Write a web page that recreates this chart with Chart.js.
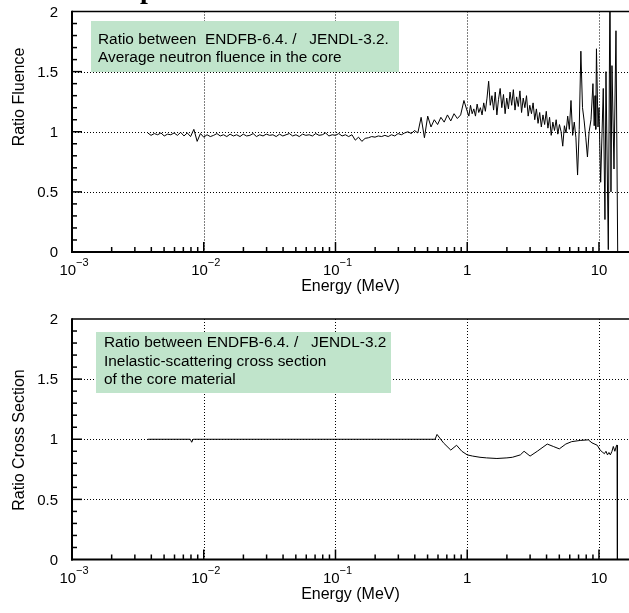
<!DOCTYPE html>
<html><head><meta charset="utf-8">
<script src="https://cdn.jsdelivr.net/npm/chart.js@4.4.1/dist/chart.umd.min.js"></script>
<style>
html,body{margin:0;padding:0;background:#fff;overflow:hidden;width:629px;height:613px}
canvas{position:absolute;left:0}
#c1{top:0}
#c2{top:306px}
</style></head><body>
<canvas id="c1" width="629" height="306"></canvas>
<canvas id="c2" width="629" height="307"></canvas>
<script>
// ---------------- DATA ----------------
const fluenceEnergy = [
  0.003758,0.003981,0.004217,0.004467,0.004732,0.005012,0.005309,0.005623,0.005957,0.006310,0.006683,0.007079,0.007499,0.007943,0.008414,0.008913,0.009441,
  0.01000,0.01059,0.01122,0.01189,0.01259,0.01334,0.01413,0.01496,0.01585,0.01679,0.01778,0.01884,0.01995,0.02113,0.02239,0.02371,0.02512,0.02661,0.02818,0.02985,
  0.03162,0.03350,0.03548,0.03758,0.03981,0.04217,0.04467,0.04732,0.05012,0.05309,0.05623,0.05957,0.06310,0.06683,0.07079,0.07499,0.07943,0.08414,0.08913,0.09441,
  0.1000,0.1059,0.1122,0.1189,0.1259,0.1334,0.1413,0.1496,0.1585,0.1679,0.1778,0.1884,0.1995,0.2113,0.2239,0.2371,0.2512,0.2661,0.2818,0.2985,
  0.3162,0.3350,0.3548,0.3758,0.3981,0.4217,0.4467,0.4732,0.5012,0.5309,0.5623,0.5957,0.6310,0.6683,0.7079,0.7499,0.7943,0.8414,0.8913,0.9441,
  1.000,1.029,1.059,1.090,1.122,1.155,1.189,1.223,1.259,1.296,1.334,1.373,1.413,1.454,1.496,1.540,1.585,1.631,1.679,1.728,
  1.778,1.830,1.884,1.939,1.995,2.054,2.113,2.175,2.239,2.304,2.371,2.441,2.512,2.585,2.661,2.738,2.818,2.901,2.985,3.073,
  3.162,3.255,3.350,3.448,3.548,3.652,3.758,3.868,3.981,4.097,4.217,4.340,4.467,4.597,4.732,4.870,5.012,5.158,5.309,5.464,
  5.623,5.788,5.957,6.131,6.310,6.494,6.683,6.879,7.079,7.286,7.499,7.718,7.943,8.175,8.414,
  8.7,9.0,9.2,9.33,9.45,9.57,9.83,10.0,10.3,10.78,11.1,11.3,11.77,12.12,12.33,12.55,13.0,13.46,13.87
];
const fluenceRatio = [
  0.99,0.97,0.985,0.975,0.99,0.965,0.98,0.975,0.99,0.97,0.995,0.965,0.99,0.96,1.02,0.92,0.985,
  0.955,0.975,0.96,0.97,0.985,0.965,0.975,0.96,0.98,0.965,0.975,0.96,0.98,0.965,0.97,0.985,0.96,0.975,0.965,0.98,
  0.97,0.975,0.96,0.98,0.965,0.975,0.985,0.965,0.975,0.96,0.98,0.97,0.975,0.965,0.985,0.97,0.975,0.99,0.965,0.975,
  0.97,0.985,0.965,0.975,0.96,0.975,0.93,0.955,0.92,0.945,0.95,0.96,0.955,0.965,0.96,0.97,0.96,0.975,0.965,0.985,
  0.975,0.99,1.0,0.985,1.01,0.99,1.12,0.95,1.13,1.04,1.10,1.06,1.12,1.08,1.14,1.09,1.15,1.11,1.14,1.26,
  1.17,1.13,1.22,1.15,1.19,1.13,1.23,1.16,1.20,1.14,1.24,1.17,1.28,1.42,1.22,1.30,1.18,1.33,1.14,1.27,
  1.36,1.20,1.31,1.15,1.28,1.19,1.33,1.22,1.35,1.18,1.29,1.21,1.34,1.16,1.28,1.20,1.30,1.13,1.22,1.15,
  1.24,1.10,1.19,1.07,1.16,1.04,1.14,1.06,1.17,1.03,1.12,0.97,1.08,1.01,1.10,0.98,1.06,1.00,0.88,1.05,
  0.99,1.13,1.02,1.26,0.97,1.08,0.95,0.64,1.02,1.67,1.20,1.09,0.95,0.79,1.00,
  1.10,1.40,1.05,1.30,1.02,1.69,1.04,1.20,0.58,1.36,0.27,1.50,0.02,2.30,0.50,1.55,0.69,1.84,0.0
];
const xsEnergy = [0.00376,0.0079,0.0081,0.0083,0.1,0.57,0.59,0.66,0.75,0.83,0.91,1.0,1.1,1.25,1.4,1.68,2.0,2.2,2.53,2.7,3.0,3.4,4.05,4.5,5.0,5.6,6.2,7.2,8.3,8.85,9.7,10.2,10.7,11.0,11.3,11.6,11.9,12.2,12.55,12.85,13.2,13.6,13.75,13.8];
const xsRatio    = [1.0,1.0,0.975,1.0,1.0,1.0,1.04,0.97,0.91,0.95,0.90,0.87,0.86,0.85,0.845,0.84,0.845,0.85,0.87,0.90,0.86,0.90,0.96,0.94,0.92,0.96,0.98,0.99,0.995,0.97,0.95,0.91,0.89,0.88,0.90,0.87,0.89,0.87,0.90,0.94,0.90,0.95,0.95,0.0];

const xDecadeValues = [0.001,0.01,0.1,1,10];
const xTickBase = ['10','10','10','1','10'];
const xTickExp  = ['\u22123','\u22122','\u22121','',''];
const yTickValues = [0,0.5,1,1.5,2];
const yTickLabels = ['0','0.5','1','1.5','2'];
const yGridValues = [0.5,1,1.5];
const X_MIN = 0.001, X_MAX = 16.9, Y_MIN = 0, Y_MAX = 2;

// ---------------- DRAWING ----------------
const SANS = "'Liberation Sans', Arial, Helvetica, sans-serif";

function line(ctx,x1,y1,x2,y2){ctx.beginPath();ctx.moveTo(x1,y1);ctx.lineTo(x2,y2);ctx.stroke();}

function decoPlugin(o){
  return {
    id:'deco'+o.id,
    beforeDatasetsDraw(chart){
      const {ctx, chartArea:a, scales:{x,y}} = chart;
      ctx.save();
      ctx.strokeStyle='#000'; ctx.lineWidth=1; ctx.setLineDash([1,2]);
      for(const v of xDecadeValues){
        const px=Math.round(x.getPixelForValue(v))+0.5;
        if(px>a.left+2 && px<a.right) line(ctx,px,a.top,px,a.bottom);
      }
      for(const v of yGridValues){
        const py=Math.round(y.getPixelForValue(v))+0.5;
        line(ctx,a.left,py,a.right,py);
      }
      ctx.restore();
    },
    afterDatasetsDraw(chart){
      const {ctx, chartArea:a, scales:{x,y}} = chart;
      ctx.save();
      // annotation box
      ctx.fillStyle='#c0e4cb';
      ctx.fillRect(o.box[0],o.box[1],o.box[2]-o.box[0],o.box[3]-o.box[1]);
      ctx.fillStyle='#000';
      ctx.font='15.4px '+SANS; ctx.textAlign='left'; ctx.textBaseline='alphabetic';
      o.boxLines.forEach((t,i)=>ctx.fillText(t,o.textX,o.textY[i]));
      // frame
      ctx.strokeStyle='#000';
      ctx.lineWidth=1.5; line(ctx,a.left,a.top,a.right,a.top);
      ctx.lineWidth=2;
      line(ctx,a.left,a.top-0.75,a.left,a.bottom+1);
      line(ctx,a.left-1,a.bottom,a.right,a.bottom);
      // x ticks (inside)
      ctx.lineWidth=1.5;
      for(let d=0; d<xDecadeValues.length; d++){
        const dec=xDecadeValues[d];
        for(let m=1;m<=9;m++){
          const v=m*dec; if(v>X_MAX) break;
          const px=x.getPixelForValue(v);
          if(m===1){ if(px>a.left+2) line(ctx,px,a.bottom,px,a.bottom-10); }
          else line(ctx,px,a.bottom,px,a.bottom-5);
        }
      }
      // y ticks (inside)
      for(let k=1;k<20;k++){
        const py=y.getPixelForValue(k/10);
        line(ctx,a.left,py,a.left+(k%5===0?10:5),py);
      }
      // x tick labels
      ctx.fillStyle='#000';
      xDecadeValues.forEach((v,i)=>{
        const px=x.getPixelForValue(v);
        ctx.font='15px '+SANS;
        const wb=ctx.measureText(xTickBase[i]).width;
        ctx.font='11px '+SANS;
        const we=xTickExp[i]?ctx.measureText(xTickExp[i]).width:0;
        const left=px-(wb+we)/2+(we?2:0);
        ctx.font='15px '+SANS; ctx.textAlign='left';
        ctx.fillText(xTickBase[i],left,a.bottom+23);
        if(we){ctx.font='11px '+SANS; ctx.fillText(xTickExp[i],left+wb,a.bottom+14);}
      });
      // y tick labels
      ctx.font='15px '+SANS; ctx.textAlign='right'; ctx.textBaseline='middle';
      yTickValues.forEach((v,i)=>ctx.fillText(yTickLabels[i],a.left-14,y.getPixelForValue(v)+1));
      // axis titles
      ctx.font='16px '+SANS; ctx.textAlign='center'; ctx.textBaseline='alphabetic';
      ctx.fillText('Energy (MeV)',(a.left+a.right)/2,a.bottom+39);
      ctx.save();
      ctx.translate(o.yTitleX,o.yTitleY); ctx.rotate(-Math.PI/2);
      ctx.fillText(o.yTitle,0,0);
      ctx.restore();
      if(o.topText){
        ctx.font="bold 28px 'Liberation Serif', serif"; ctx.textAlign='left';
        ctx.fillText(o.topText,140,-2);
      }
      ctx.restore();
    }
  };
}

function makeChart(id, xs, ys, o){
  const pts = xs.map((e,i)=>({x:e,y:ys[i]}));
  return new Chart(document.getElementById(id),{
    type:'line',
    data:{datasets:[{data:pts,borderColor:'#000',borderWidth:1,pointRadius:0,tension:0,fill:false}]},
    options:{
      responsive:false, animation:false, devicePixelRatio:1,
      layout:{padding:{top:o.padTop,left:0,right:0,bottom:0}},
      plugins:{legend:{display:false},tooltip:{enabled:false},title:{display:false}},
      scales:{
        x:{type:'logarithmic',min:X_MIN,max:X_MAX,grid:{display:false},border:{display:false},ticks:{display:false},
           afterFit(s){s.height=o.xh;}},
        y:{type:'linear',min:Y_MIN,max:Y_MAX,grid:{display:false},border:{display:false},ticks:{display:false},
           afterFit(s){s.width=72;}}
      }
    },
    plugins:[decoPlugin(o)]
  });
}

makeChart('c1', fluenceEnergy, fluenceRatio, {
  id:1, padTop:11.5, xh:54,
  box:[91,21,399,72], textX:98, textY:[44,62],
  boxLines:['Ratio between  ENDFB-6.4. /   JENDL-3.2.','Average neutron fluence in the core'],
  yTitle:'Ratio Fluence', yTitleX:24, yTitleY:97, topText:'p'
});
makeChart('c2', xsEnergy, xsRatio, {
  id:2, padTop:13, xh:53.5,
  box:[96,26,391,87], textX:104, textY:[41,59.5,77.5],
  boxLines:['Ratio between ENDFB-6.4. /   JENDL-3.2','Inelastic-scattering cross section','of the core material'],
  yTitle:'Ratio Cross Section', yTitleX:24, yTitleY:134
});
</script>
</body></html>
